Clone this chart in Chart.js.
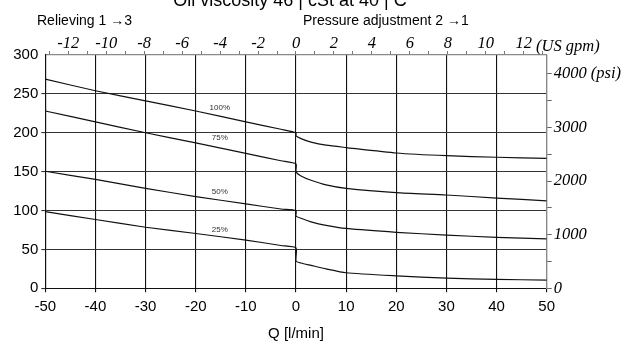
<!DOCTYPE html>
<html>
<head>
<meta charset="utf-8">
<script src="https://cdn.jsdelivr.net/npm/chart.js@4.4.1/dist/chart.umd.min.js"></script>
<style>
  body { margin: 0; background: #fff; }
  #wrap { width: 622px; height: 343px; }
</style>
</head>
<body>
<div id="wrap"><canvas id="chart1" width="622" height="343"></canvas></div>
<script>
// flow Q [l/min]; 0 appears twice for the step at zero flow
const flow = [-50, -40, -30, -20, -10, -3, 0, 0, 1, 3, 6, 10, 20, 30, 40, 50];
const p100 = [269, 254, 241, 228, 214, 204.5, 200, 196, 192.5, 188, 184, 181, 174, 170.5, 168.5, 167];
const p75  = [228, 214, 200, 187, 173.5, 164, 160, 150, 144.5, 139, 133, 128.5, 123, 120, 116, 112.5];
const p50  = [150.5, 140, 128.5, 118, 108.5, 102, 100, 93, 90, 85.5, 81, 77, 72, 68.5, 65.5, 63.5];
const p25  = [98.5, 88.5, 78.5, 70.5, 62, 55, 52, 35, 32.5, 29.5, 25, 20, 16, 13, 11.5, 10.5];
const seriesNames = ['100%', '75%', '50%', '25%'];
const labelQ = -15.2;
const labelP = [232, 193, 124, 75.5];

const LPM_PER_GPM = 3.7854;
const PSI_PER_BAR = 14.5038;
const gpmTicks = [];
for (let g = -13; g <= 13; g++) gpmTicks.push(g);
const psiTicks = [0, 500, 1000, 1500, 2000, 2500, 3000, 3500, 4000];

const sans = 'Liberation Sans, Arial, sans-serif';
const serif = 'Liberation Serif, Times New Roman, serif';

function pts(arr) {
  return flow.map((q, i) => ({ x: q, y: arr[i] }));
}

const textPlugin = {
  id: 'texts',
  afterDraw(chart) {
    const ctx = chart.ctx;
    const xs = chart.scales.x, ys = chart.scales.y;
    ctx.save();
    ctx.fillStyle = '#000';
    ctx.textBaseline = 'alphabetic';
    ctx.textAlign = 'center';
    ctx.font = '18px ' + sans;
    ctx.fillText('Oil viscosity 46 | cSt at 40 | C', 290, 6);
    ctx.textAlign = 'left';
    ctx.font = '14px ' + sans;
    ctx.fillText('Relieving 1 \u21923', 37, 25);
    ctx.fillText('Pressure adjustment 2 \u21921', 303, 25);
    ctx.font = 'italic 16.5px ' + serif;
    ctx.fillText('(US gpm)', 536, 51);
    ctx.textAlign = 'center';
    ctx.font = '15px ' + sans;
    ctx.fillText('Q [l/min]', 296, 338);
    ctx.font = '8px ' + sans;
    ctx.fillStyle = '#333';
    ctx.textBaseline = 'middle';
    seriesNames.forEach((n, i) => {
      ctx.fillText(n, xs.getPixelForValue(labelQ), ys.getPixelForValue(labelP[i]));
    });
    ctx.restore();
  }
};

const lineStyle = { borderColor: '#111', borderWidth: 1.2, pointRadius: 0, tension: 0.2, fill: false };

new Chart("chart1", {
  type: "line",
  data: {
    datasets: [
      Object.assign({ label: seriesNames[0], data: pts(p100) }, lineStyle),
      Object.assign({ label: seriesNames[1], data: pts(p75) }, lineStyle),
      Object.assign({ label: seriesNames[2], data: pts(p50) }, lineStyle),
      Object.assign({ label: seriesNames[3], data: pts(p25) }, lineStyle)
    ]
  },
  options: {
    responsive: false,
    animation: false,
    layout: { padding: 0 },
    plugins: { legend: { display: false }, tooltip: { enabled: false } },
    scales: {
      x: {
        type: 'linear', position: 'bottom', min: -50, max: 50,
        afterFit: s => { s.height = 54.7; },
        ticks: { stepSize: 10, color: '#000', font: { family: sans, size: 15 }, padding: 6, maxRotation: 0 },
        grid: { color: '#111', lineWidth: 1.1, tickLength: 4 },
        border: { color: '#111', width: 1.1 }
      },
      x2: {
        type: 'linear', position: 'top', min: -50 / LPM_PER_GPM, max: 50 / LPM_PER_GPM,
        afterFit: s => { s.height = 55; },
        afterBuildTicks: s => { s.ticks = gpmTicks.map(v => ({ value: v })); },
        ticks: {
          autoSkip: false, maxRotation: 0, color: '#000', padding: -3,
          font: { family: serif, size: 16.5, style: 'italic' },
          callback: v => (v % 2 === 0 ? String(v) : '')
        },
        grid: { drawOnChartArea: false, color: '#777', tickLength: 4 },
        border: { color: '#888', width: 1.2 }
      },
      y: {
        type: 'linear', position: 'left', min: 0, max: 300,
        afterFit: s => { s.width = 45.3; },
        ticks: { stepSize: 50, color: '#000', font: { family: sans, size: 15 }, padding: 3 },
        grid: {
          color: c => (c.tick && c.tick.value === 300 ? 'rgba(0,0,0,0)' : '#333'),
          lineWidth: 1.1, tickLength: 4
        },
        border: { color: '#111', width: 1.1 }
      },
      y2: {
        type: 'linear', position: 'right', min: 0, max: 300 * PSI_PER_BAR,
        afterFit: s => { s.width = 75.3; },
        afterBuildTicks: s => { s.ticks = psiTicks.map(v => ({ value: v })); },
        ticks: {
          autoSkip: false, color: '#000', padding: 2,
          font: { family: serif, size: 16.5, style: 'italic' },
          callback: v => (v % 1000 === 0 ? (v === 4000 ? '4000 (psi)' : String(v)) : '')
        },
        grid: { drawOnChartArea: false, color: '#666', tickLength: 5 },
        border: { color: '#888', width: 1.2 }
      }
    }
  },
  plugins: [textPlugin]
});
</script>
</body>
</html>
